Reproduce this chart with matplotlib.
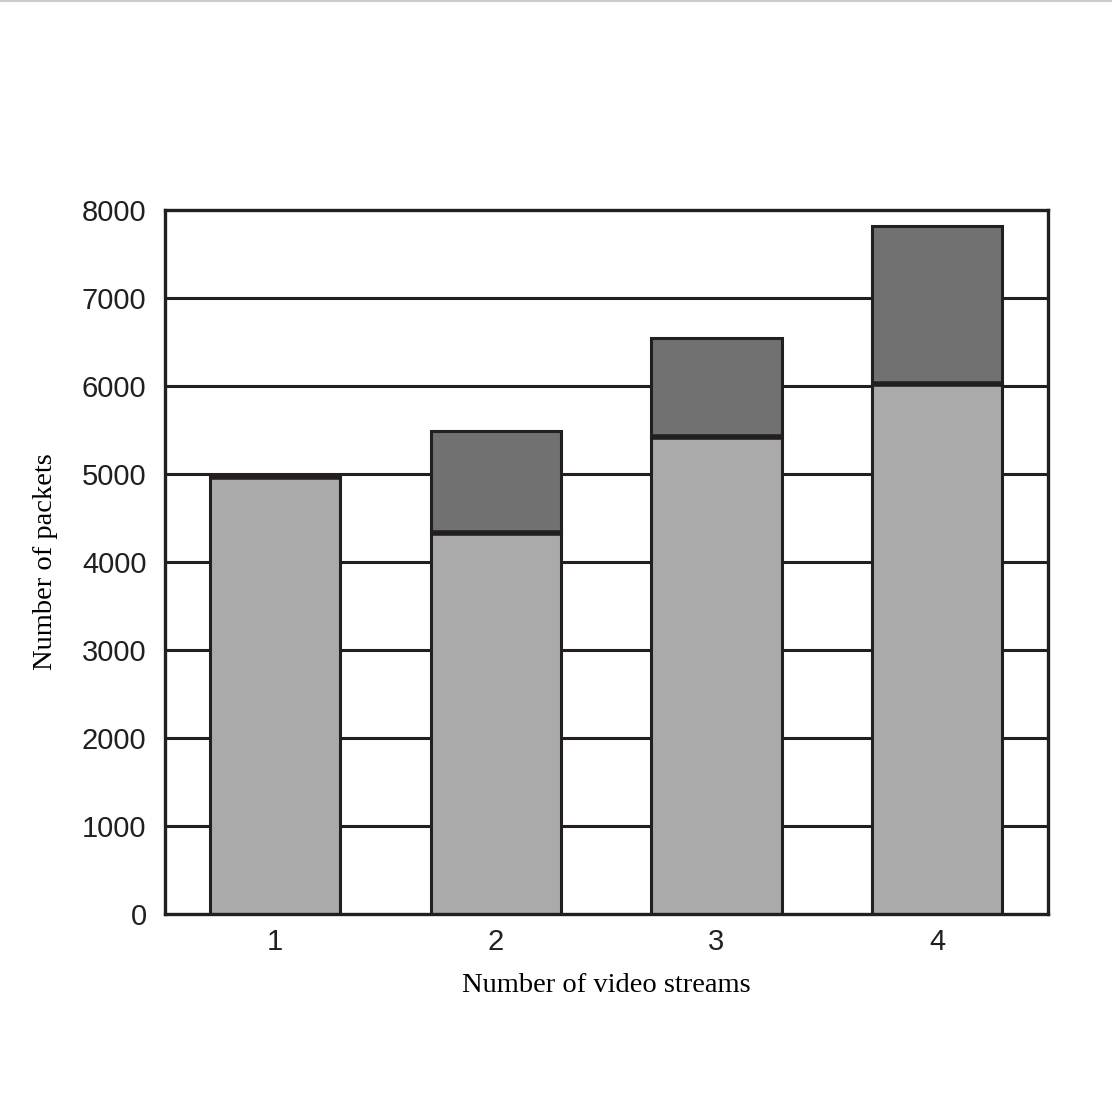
import matplotlib
matplotlib.use('AGG')
import matplotlib.pyplot as plt
from matplotlib.lines import Line2D

# stacked packet counts per number of video streams
streams = [1, 2, 3, 4]
lower = [4970, 4330, 5420, 6030]
upper = [0, 1160, 1125, 1790]
yticks = [0, 1000, 2000, 3000, 4000, 5000, 6000, 7000, 8000]

edge = '#231f20'
fig = plt.figure(figsize=(11.12, 11.12), dpi=100)
ax = fig.add_axes([0.148, 0.178, 0.794, 0.633])

for y in yticks[1:-1]:
    ax.axhline(y, color=edge, lw=2.2, zorder=0)

ax.bar(streams, lower, width=0.59, color='#aaaaaa', edgecolor=edge, lw=2.2, zorder=2)
ax.bar(streams, upper, width=0.59, bottom=lower, color='#717171', edgecolor=edge, lw=2.2, zorder=2)
# thick separator between the two parts
ax.hlines(lower, [s - 0.295 for s in streams], [s + 0.295 for s in streams],
          color=edge, lw=4, zorder=3)

ax.set_xlim(0.5, 4.5)
ax.set_ylim(0, 8000)
ax.set_xticks(streams)
ax.set_yticks(yticks)
ax.tick_params(length=0, labelsize=21, colors='#231f20')
ax.tick_params(axis='y', pad=13)
ax.tick_params(axis='x', pad=10)
for lab in ax.get_xticklabels() + ax.get_yticklabels():
    lab.set_family('Liberation Sans')
for sp in ax.spines.values():
    sp.set_linewidth(2.4)
    sp.set_color(edge)

ax.set_xlabel('Number of video streams', family='Liberation Serif', fontsize=20.5, labelpad=12)
ax.set_ylabel('Number of packets', family='Liberation Serif', fontsize=20.5, labelpad=17)

# faint scan border at the top of the page
fig.add_artist(Line2D([0, 1], [0.999, 0.999], color='#cccccc', lw=1.5, transform=fig.transFigure))

fig.savefig('out.png')
